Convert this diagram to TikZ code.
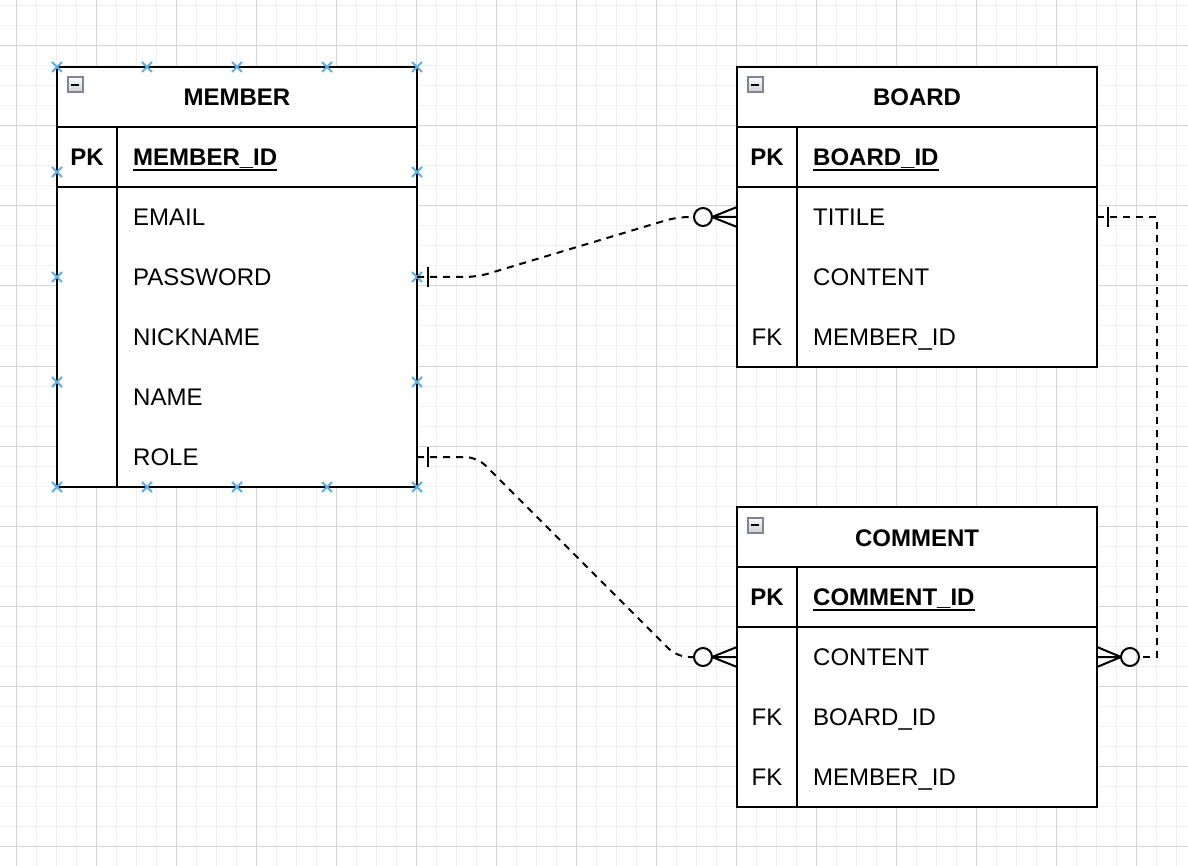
\documentclass[tikz,border=0pt]{standalone}
\usepackage{fontspec}
\setmainfont{Liberation Sans}
\usetikzlibrary{calc}
\definecolor{gminorc}{HTML}{F0F0F0}
\definecolor{gmajorc}{HTML}{D5D5D5}
\definecolor{handlec}{HTML}{5AAEEA}
\definecolor{iconb}{HTML}{7E8594}
\definecolor{iconf}{HTML}{DCDEE4}
\begin{document}
\begin{tikzpicture}[x=1pt,y=-1pt,
  gminor/.style={draw=gminorc,line width=1pt},
  gmajor/.style={draw=gmajorc,line width=1pt},
  tbl/.style={draw=black,line width=2pt,fill=white,inner sep=0pt,minimum width=360pt},
  tline/.style={draw=black,line width=2pt},
  hdr/.style={font=\fontsize{24}{28}\selectfont\bfseries,anchor=base,inner sep=0pt},
  keyb/.style={font=\fontsize{24}{28}\selectfont\bfseries,anchor=base,inner sep=0pt},
  keyn/.style={font=\fontsize{24}{28}\selectfont,anchor=base,inner sep=0pt},
  pkf/.style={font=\fontsize{24}{28}\selectfont\bfseries,anchor=base west,inner sep=0pt},
  fld/.style={font=\fontsize{24}{28}\selectfont,anchor=base west,inner sep=0pt},
  uline/.style={draw=black,line width=2pt},
  icon/.style={draw=iconb,top color=white!90!iconf,bottom color=iconf!85!gray,line width=2pt,minimum size=15pt,inner sep=0pt},
  iconmin/.style={draw=black,line width=2.5pt},
  handle/.style={draw=handlec,line width=2pt},
  rel/.style={draw=black,line width=2pt,dash pattern=on 7pt off 6pt,rounded corners=12pt},
  relend/.style={draw=black,line width=2pt,solid}
]
\useasboundingbox (0,0) rectangle (1188,866);
\fill[white] (0,0) rectangle (1188,866);
% grid
\foreach \x in {16,36,...,1176} \draw[gminor] (\x,0) -- (\x,866);
\foreach \y in {6,26,...,866} \draw[gminor] (0,\y) -- (1188,\y);
\foreach \x in {16,96,...,1176} \draw[gmajor] (\x,0) -- (\x,866);
\foreach \y in {46,126,...,846} \draw[gmajor] (0,\y) -- (1188,\y);

% ================= MEMBER =================
\node[tbl,minimum height=420pt] (member) at (237,277) {};
\draw[tline] (57,127) -- (417,127) (57,187) -- (417,187) (117,127) -- (117,487);
\node[icon] (micon) at (75,85) {};
\draw[iconmin] (71,85) -- (79,85);
\node[hdr] (mhead) at (237,106) {MEMBER};
\node[keyb] (mpk) at (87,165.6) {PK};
\node[pkf] (mid) at (133,165.6) {MEMBER\_ID};
\draw[uline] ([yshift=-4pt]mid.base west) -- ([yshift=-4pt]mid.base east);
\node[fld] (memail) at (133,225.6) {EMAIL};
\node[fld] (mpass) at (133,285.6) {PASSWORD};
\node[fld] (mnick) at (133,345.6) {NICKNAME};
\node[fld] (mname) at (133,405.6) {NAME};
\node[fld] (mrole) at (133,465.6) {ROLE};

% ================= BOARD =================
\node[tbl,minimum height=300pt] (board) at (917,217) {};
\draw[tline] (737,127) -- (1097,127) (737,187) -- (1097,187) (797,127) -- (797,367);
\node[icon] (bicon) at (755,85) {};
\draw[iconmin] (751,85) -- (759,85);
\node[hdr] (bhead) at (917,106) {BOARD};
\node[keyb] (bpk) at (767,165.6) {PK};
\node[pkf] (bid) at (813,165.6) {BOARD\_ID};
\draw[uline] ([yshift=-4pt]bid.base west) -- ([yshift=-4pt]bid.base east);
\node[fld] (btitle) at (813,225.6) {TITILE};
\node[fld] (bcontent) at (813,285.6) {CONTENT};
\node[keyn] (bfk) at (767,345.6) {FK};
\node[fld] (bmid) at (813,345.6) {MEMBER\_ID};

% ================= COMMENT =================
\node[tbl,minimum height=300pt] (comment) at (917,657) {};
\draw[tline] (737,567) -- (1097,567) (737,627) -- (1097,627) (797,567) -- (797,807);
\node[icon] (cicon) at (755,525) {};
\draw[iconmin] (751,525) -- (759,525);
\node[hdr] (chead) at (917,546) {COMMENT};
\node[keyb] (cpk) at (767,605.6) {PK};
\node[pkf] (cid) at (813,605.6) {COMMENT\_ID};
\draw[uline] ([yshift=-4pt]cid.base west) -- ([yshift=-4pt]cid.base east);
\node[fld] (ccontent) at (813,665.6) {CONTENT};
\node[keyn] (cfk1) at (767,725.6) {FK};
\node[fld] (cbid) at (813,725.6) {BOARD\_ID};
\node[keyn] (cfk2) at (767,785.6) {FK};
\node[fld] (cmid) at (813,785.6) {MEMBER\_ID};

% selection handles on MEMBER
\foreach \x/\y in {57/67,147/67,237/67,327/67,417/67,
                   57/487,147/487,237/487,327/487,417/487,
                   57/172,57/277,57/382,417/172,417/277,417/382}
  \draw[handle] (\x-5,\y-5) -- (\x+5,\y+5) (\x-5,\y+5) -- (\x+5,\y-5);

% connection points
\coordinate (mpassE) at (417,277);
\coordinate (mroleE) at (417,457);
\coordinate (btitW) at (737,217);
\coordinate (btitE) at (1097,217);
\coordinate (ccontW) at (737,657);
\coordinate (ccontE) at (1097,657);

% MEMBER.PASSWORD -> BOARD.TITILE
\draw[rel] (mpassE) -- ++(60,0) -- (677,217) -- ($(btitW)+(-43,0)$);
\draw[relend] ($(mpassE)+(11,-10)$) -- ++(0,20);
\draw[relend] ($(btitW)+(-34,0)$) circle (9);
\draw[relend] ($(btitW)+(-25,0)$) -- (btitW) ($(btitW)+(-25,0)$) -- ($(btitW)+(0,-10)$) ($(btitW)+(-25,0)$) -- ($(btitW)+(0,10)$);

% MEMBER.ROLE -> COMMENT.CONTENT
\draw[rel] (mroleE) -- ++(60,0) -- (677,657) -- ($(ccontW)+(-43,0)$);
\draw[relend] ($(mroleE)+(11,-10)$) -- ++(0,20);
\draw[relend] ($(ccontW)+(-34,0)$) circle (9);
\draw[relend] ($(ccontW)+(-25,0)$) -- (ccontW) ($(ccontW)+(-25,0)$) -- ($(ccontW)+(0,-10)$) ($(ccontW)+(-25,0)$) -- ($(ccontW)+(0,10)$);

% BOARD.TITILE -> COMMENT.CONTENT
\draw[rel,rounded corners=0pt] (btitE) -- (1157,217) -- (1157,657) -- ($(ccontE)+(42,0)$);
\draw[relend] ($(btitE)+(11,-10)$) -- ++(0,20);
\draw[relend] ($(ccontE)+(33,0)$) circle (9);
\draw[relend] ($(ccontE)+(24,0)$) -- (ccontE) ($(ccontE)+(24,0)$) -- ($(ccontE)+(0,-10)$) ($(ccontE)+(24,0)$) -- ($(ccontE)+(0,10)$);
\end{tikzpicture}
\end{document}
